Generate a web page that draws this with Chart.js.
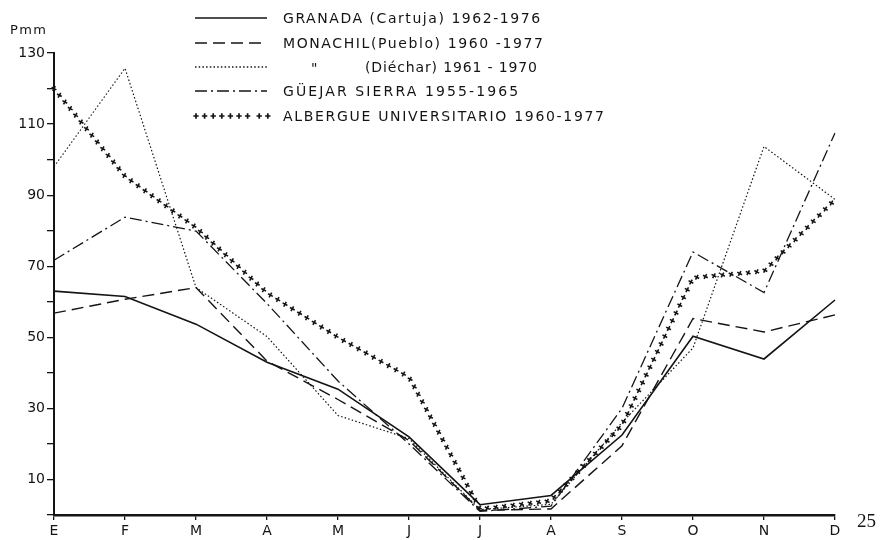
<!DOCTYPE html>
<html>
<head>
<meta charset="utf-8">
<script src="https://cdn.jsdelivr.net/npm/chart.js@4"></script>
<style>
  body { margin: 0; background: #fff; }
  #wrap { width: 881px; height: 540px; }
</style>
</head>
<body>
<div id="wrap"><canvas id="lluvia" width="881" height="540"></canvas></div>
<script>
"use strict";

// meses del año
const meses = ['E', 'F', 'M', 'A', 'M', 'J', 'J', 'A', 'S', 'O', 'N', 'D'];

// precipitación media mensual (mm)
const granada  = [63, 61.5, 53.7, 43, 35.4, 22, 2.9, 5.5, 22.5, 50.3, 43.9, 60.5];
const monachil = [56.8, 60.7, 64, 43.3, 32.5, 21, 1.3, 1.7, 19.5, 55.3, 51.5, 56.3];
const diechar  = [98, 125.7, 64, 50.2, 28, 21.5, 1.5, 3, 26, 47, 103.7, 88.8];
const guejar   = [71.7, 83.8, 79.9, 59.5, 37.7, 20, 1, 2.5, 30, 74, 62.6, 107.5];
const albergue = [120, 95.3, 80.9, 62.5, 50, 38.8, 1.7, 4, 25.3, 66.8, 68.6, 88.8];

// textos de la leyenda
const nombres = [
    'GRANADA (Cartuja) 1962-1976',
    'MONACHIL(Pueblo) 1960 -1977',
    '(Diéchar) 1961 - 1970',
    'GÜEJAR SIERRA 1955-1965',
    'ALBERGUE UNIVERSITARIO 1960-1977'
];

// marcas del eje y con número
const yEtiquetas = [10, 30, 50, 70, 90, 110, 130];

const negro = '#141414';
const fuente = 'DejaVu Sans';
const rayas = [
    [],
    [12, 6],
    [1.5, 2.2],
    [12, 4, 2, 4],
    null
];

// dibuja una cruz pequeña
function cruz(ctx, x, y, s, ang) {
    ctx.save();
    ctx.translate(x, y);
    ctx.rotate(ang);
    ctx.beginPath();
    ctx.moveTo(-s, 0); ctx.lineTo(s, 0);
    ctx.moveTo(0, -s); ctx.lineTo(0, s);
    ctx.stroke();
    ctx.restore();
}

// texto estirado hasta un ancho dado
function textoAncho(ctx, txt, x, y, ancho) {
    ctx.letterSpacing = '0px';
    let w = ctx.measureText(txt).width;
    let sp = (ancho - w) / (txt.length - 1);
    ctx.letterSpacing = sp.toFixed(2) + 'px';
    ctx.fillText(txt, x, y);
    ctx.letterSpacing = '0px';
}

const extras = {
    id: 'extras',
    afterDatasetsDraw(chart) {
        // la serie del albergue se dibuja con cruces a lo largo de la línea
        const ctx = chart.ctx;
        chart.data.datasets.forEach((ds, i) => {
            if (!ds.cruces) return;
            let pts = chart.getDatasetMeta(i).data;
            ctx.save();
            ctx.strokeStyle = negro;
            ctx.lineWidth = 1.6;
            let resto = 0;
            for (let k = 0; k < pts.length - 1; k++) {
                let a = pts[k], b = pts[k + 1];
                let dx = b.x - a.x, dy = b.y - a.y;
                let len = Math.hypot(dx, dy);
                let d = resto;
                while (d <= len) {
                    cruz(ctx, a.x + dx * d / len, a.y + dy * d / len, 2.7, 0.5);
                    d += 8.6;
                }
                resto = d - len;
            }
            ctx.restore();
        });
    },
    afterDraw(chart) {
        const ctx = chart.ctx;
        ctx.save();
        ctx.fillStyle = negro;
        ctx.strokeStyle = negro;
        ctx.textBaseline = 'middle';

        // leyenda
        const filas = [18, 43, 67, 91, 116];
        const anchos = [257, 260, 172, 235, 321];
        ctx.font = "14px '" + fuente + "'";
        filas.forEach((y, i) => {
            if (rayas[i]) {
                ctx.lineWidth = i == 0 ? 1.6 : 1.4;
                ctx.setLineDash(rayas[i]);
                ctx.beginPath();
                ctx.moveTo(195, y);
                ctx.lineTo(267, y);
                ctx.stroke();
                ctx.setLineDash([]);
            } else {
                ctx.lineWidth = 1.7;
                for (let k = 0; k < 9; k++) {
                    cruz(ctx, 196 + k * 8.6 + (k > 6 ? 3 : 0), y, 2.7, 0);
                }
            }
            if (i == 2) {
                ctx.fillText('"', 311, y + 2);
                textoAncho(ctx, nombres[i], 365, y + 1, anchos[i]);
            } else {
                textoAncho(ctx, nombres[i], 283, y + 1, anchos[i]);
            }
        });

        // unidad del eje
        ctx.font = "13px '" + fuente + "'";
        textoAncho(ctx, 'Pmm', 10, 31, 36);

        // número de página
        ctx.font = "19px 'Liberation Serif'";
        ctx.fillText('25', 857, 522);
        ctx.restore();
    }
};

const estilos = [
    { borderWidth: 1.6, borderDash: [] },
    { borderWidth: 1.4, borderDash: [12, 6] },
    { borderWidth: 1.2, borderDash: [1.5, 2.2] },
    { borderWidth: 1.3, borderDash: [12, 4, 2, 4] },
    { borderWidth: 0, borderDash: [] }
];

const series = [granada, monachil, diechar, guejar, albergue];

new Chart(document.getElementById('lluvia'), {
    type: 'line',
    data: {
        labels: meses,
        datasets: series.map((s, i) => ({
            label: nombres[i],
            data: s,
            borderColor: i == 4 ? 'rgba(0,0,0,0)' : negro,
            borderWidth: estilos[i].borderWidth,
            borderDash: estilos[i].borderDash,
            pointRadius: 0,
            tension: 0,
            fill: false,
            cruces: i == 4
        }))
    },
    options: {
        responsive: false,
        animation: false,
        layout: { padding: { top: 53, right: 46, left: 0, bottom: 0 } },
        plugins: {
            legend: { display: false },
            tooltip: { enabled: false }
        },
        scales: {
            x: {
                offset: false,
                afterFit: (s) => { s.height = 25; },
                grid: { drawOnChartArea: false, tickLength: 5, color: negro, lineWidth: 1.3 },
                border: { display: true, color: negro, width: 2.6 },
                ticks: {
                    color: negro,
                    padding: 3,
                    maxRotation: 0,
                    autoSkip: false,
                    font: { family: fuente, size: 14 }
                }
            },
            y: {
                min: 0,
                max: 130,
                afterFit: (s) => { s.width = 54; },
                grid: { drawOnChartArea: false, tickLength: 7, color: negro, lineWidth: 1.3 },
                border: { display: true, color: negro, width: 2 },
                ticks: {
                    stepSize: 10,
                    color: negro,
                    padding: 2,
                    autoSkip: false,
                    font: { family: fuente, size: 14 },
                    callback: (v) => yEtiquetas.includes(v) ? v : ''
                }
            }
        }
    },
    plugins: [extras]
});
</script>
</body>
</html>
